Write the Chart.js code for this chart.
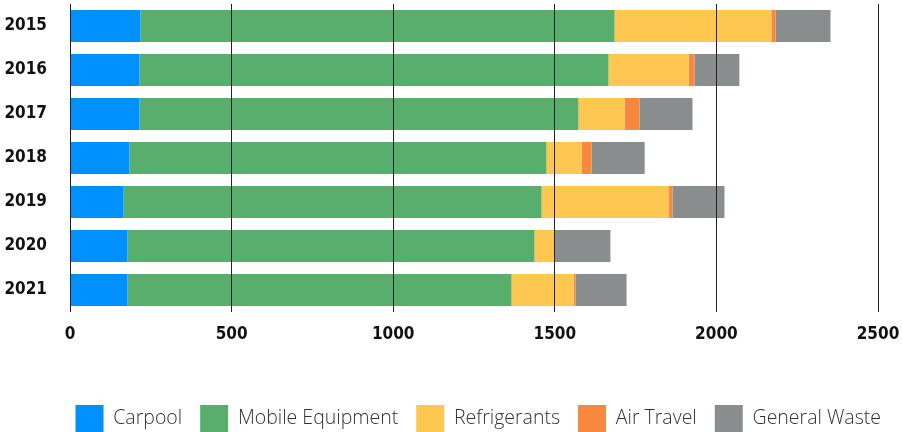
<!DOCTYPE html>
<html>
<head>
<meta charset="utf-8">
<script src="https://cdn.jsdelivr.net/npm/chart.js"></script>
<style>
  html, body { margin: 0; padding: 0; background: #fff; }
  #wrap { width: 902px; height: 432px; }
</style>
</head>
<body>
<div id="wrap"><canvas id="chart"></canvas></div>
<script>
// data
const years = ['2015', '2016', '2017', '2018', '2019', '2020', '2021'];
const carpool = [218, 215, 215, 184, 166, 178, 178];
const mobileEquipment = [1467, 1451, 1358, 1290, 1293, 1259, 1188];
const refrigerants = [485, 248, 143, 109, 393, 62, 192];
const airTravel = [13, 18, 46, 31, 12, 0, 6];
const generalWaste = [170, 139, 164, 164, 161, 173, 158];

const tickFont = { family: '"DejaVu Sans Condensed", "DejaVu Sans", sans-serif', size: 17, weight: 'bold' };

const ds = (label, data, color) => ({
  label, data,
  backgroundColor: color,
  borderWidth: 0,
  barPercentage: 1,
  categoryPercentage: 32 / 44
});

new Chart(document.getElementById('chart'), {
  type: 'bar',
  data: {
    labels: years,
    datasets: [
      ds('Carpool', carpool, '#0091ff'),
      ds('Mobile Equipment', mobileEquipment, '#58ae6c'),
      ds('Refrigerants', refrigerants, '#fec74f'),
      ds('Air Travel', airTravel, '#f7883e'),
      ds('General Waste', generalWaste, '#8a8d8d')
    ]
  },
  options: {
    indexAxis: 'y',
    responsive: true,
    maintainAspectRatio: false,
    animation: false,
    layout: { padding: { top: 4, right: 3, left: 0, bottom: -10 } },
    plugins: {
      tooltip: { enabled: false },
      legend: {
        position: 'bottom',
        align: 'end',
        labels: {
          boxWidth: 28,
          boxHeight: 27,
          padding: 18,
          color: '#333',
          font: { family: '"Open Sans", sans-serif', size: 19.5, weight: '300' }
        }
      }
    },
    scales: {
      x: {
        stacked: true,
        min: 0,
        max: 2500,
        ticks: { stepSize: 500, color: '#111', font: tickFont, padding: 12, callback: v => String(v) },
        grid: { color: '#222', lineWidth: 1, drawTicks: false, z: 1 },
        border: { display: false },
        afterFit: s => { s.height = 75; s.paddingLeft = 0; s.paddingRight = 24; }
      },
      y: {
        stacked: true,
        ticks: { color: '#111', font: tickFont, padding: 23 },
        grid: { display: false, drawTicks: false },
        border: { display: false },
        afterFit: s => { s.width = 70; s.paddingTop = 0; s.paddingBottom = 0; }
      }
    }
  }
});
</script>
</body>
</html>
